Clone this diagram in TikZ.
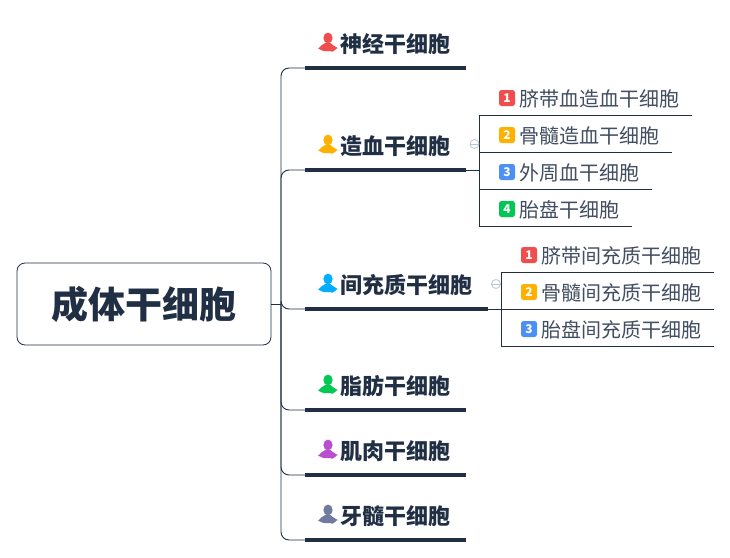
\documentclass[tikz,border=0pt]{standalone}
\usepackage{fontspec}
\setmainfont{Noto Sans CJK SC}
\definecolor{inkdark}{HTML}{212F45}
\definecolor{foldgray}{HTML}{B9C6D6}
\definecolor{badgered}{HTML}{F04E4E}
\definecolor{badgeyellow}{HTML}{FFB000}
\definecolor{badgeblue}{HTML}{4C90F5}
\definecolor{badgegreen}{HTML}{00C853}
\definecolor{manblue}{HTML}{00AEFF}
\definecolor{manpurple}{HTML}{B94FD0}
\definecolor{mangray}{HTML}{6F7A9C}
\tikzset{
  link/.style={draw=inkdark,line width=0.9pt},
  bar/.style={draw=inkdark,line width=3.6pt},
  rootbox/.style={draw=inkdark,line width=0.8pt,rounded corners=8pt,minimum width=254pt,minimum height=82pt,inner sep=0pt,text=inkdark,font=\fontsize{37pt}{37pt}\selectfont\bfseries},
  topic/.style={anchor=west,inner sep=0pt,text=inkdark,font=\fontsize{22pt}{22pt}\selectfont\bfseries},
  leaf/.style={anchor=west,inner sep=0pt,text=inkdark!85,font=\fontsize{20pt}{20pt}\selectfont},
  badge/.style={fill=#1,rounded corners=2.5pt,minimum size=16pt,inner sep=0pt,text=white,font=\fontsize{12pt}{12pt}\selectfont\bfseries},
  fold/.style={circle,draw=foldgray,line width=0.8pt,minimum size=9pt,inner sep=0pt},
}
% person icon, #1 is the centre of the head
\newcommand{\personicon}[2]{
  \fill[#2] (#1) ++(0,2) ellipse (4.6pt and 5.4pt);
  \fill[#2] (#1) ++(-9,-8) .. controls +(1,3) and +(5,2.5) .. ++(6.5,5) -- ++(5,0) .. controls +(1.5,-2.5) and +(5.5,-2) .. ++(6.5,-5) .. controls +(-1,-2) and +(-3,-3) .. ++(-5,-3) -- ++(-8,0) .. controls +(-2,0) and +(-4,1) .. cycle;
}
\begin{document}
\begin{tikzpicture}[x=1pt,y=1pt]
  \useasboundingbox (0,0) rectangle (730,-557);
  \fill[white] (0,0) rectangle (730,-557);

  \node[rootbox] (root) at (144,-304) {成体干细胞};

  % first level
  \node[topic] (nerve) at (340,-44) {神经干细胞};
  \node[topic] (blood) at (340,-146) {造血干细胞};
  \node[topic] (stroma) at (340,-285) {间充质干细胞};
  \node[topic] (fat) at (340,-386) {脂肪干细胞};
  \node[topic] (muscle) at (340,-451) {肌肉干细胞};
  \node[topic] (tooth) at (340,-516) {牙髓干细胞};

  \foreach \name/\low/\high in {nerve/68/466,blood/170/466,stroma/309/488,fat/410/466,muscle/475/466,tooth/540/466}{
    \coordinate (\name L) at (305,-\low);
    \coordinate (\name R) at (\high,-\low);
    \draw[bar] (\name L) -- (\name R);
  }

  \coordinate (trunkT) at (281,-68);
  \coordinate (trunkB) at (281,-540);
  \coordinate (rootJ) at (281,-304.5);
  \draw[link] (root.east |- rootJ) -- (rootJ);
  \draw[link,rounded corners=8pt] (nerveL) -- (trunkT) -- (trunkB) -- (toothL);
  \draw[link,rounded corners=8pt] (rootJ) |- (bloodL);
  \draw[link,rounded corners=8pt] (rootJ) |- (stromaL);
  \draw[link,rounded corners=8pt] (rootJ) |- (fatL);
  \draw[link,rounded corners=8pt] (rootJ) |- (muscleL);

  \personicon{328,-40}{badgered}
  \personicon{328,-142}{badgeyellow}
  \personicon{328,-281}{manblue}
  \personicon{328,-382}{badgegreen}
  \personicon{328,-447}{manpurple}
  \personicon{328,-512}{mangray}

  % blood leaves
  \foreach \name/\num/\col/\yy/\tip/\word in {
    cordb/1/badgered/98/692/脐带血造血干细胞,
    marrowb/2/badgeyellow/135/672/骨髓造血干细胞,
    periph/3/badgeblue/172/652/外周血干细胞,
    placb/4/badgegreen/209/632/胎盘干细胞}{
    \node[badge=\col] (\name B) at (507,-\yy) {\num};
    \node[leaf] (\name) at (519,-\yy-0.5) {\word};
    \pgfmathsetmacro{\under}{\yy+17.5}
    \coordinate (\name L) at (479,-\under);
    \coordinate (\name R) at (\tip,-\under);
    \draw[link] (\name L) -- (\name R);
  }
  \draw[link] (cordbL) -- (placbL);
  \draw[link] (bloodR) -- (bloodR -| cordbL);
  \node[fold] (bloodF) at (474.5,-144) {};
  \draw[foldgray,line width=0.8pt] (bloodF.west) -- (bloodF.east);

  % stroma leaves
  \foreach \name/\num/\col/\yy/\word in {
    cords/1/badgered/255/脐带间充质干细胞,
    marrows/2/badgeyellow/292/骨髓间充质干细胞,
    placs/3/badgeblue/329/胎盘间充质干细胞}{
    \node[badge=\col] (\name B) at (529,-\yy) {\num};
    \node[leaf] (\name) at (541,-\yy-0.5) {\word};
    \pgfmathsetmacro{\under}{\yy+17.5}
    \coordinate (\name L) at (501,-\under);
    \coordinate (\name R) at (714,-\under);
    \draw[link] (\name L) -- (\name R);
  }
  \draw[link] (cordsL) -- (placsL);
  \draw[link] (stromaR) -- (stromaR -| cordsL);
  \node[fold] (stromaF) at (496,-284) {};
  \draw[foldgray,line width=0.8pt] (stromaF.west) -- (stromaF.east);
\end{tikzpicture}
\end{document}
